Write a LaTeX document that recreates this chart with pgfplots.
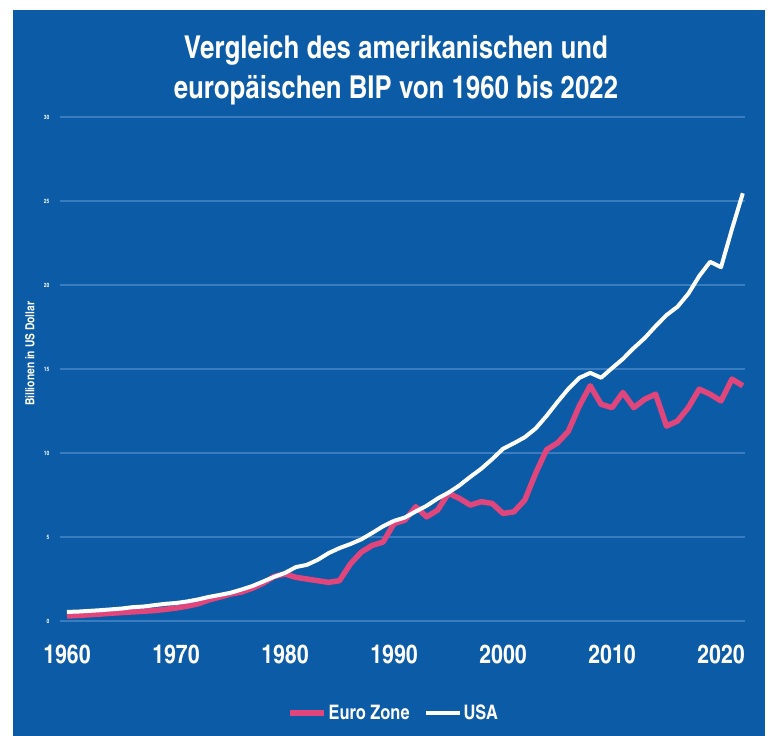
\documentclass[border=0pt]{standalone}
\usepackage{fontspec}
\setmainfont{texgyreheroscn-regular.otf}[BoldFont=texgyreheroscn-bold.otf]
\usepackage{pgfplots}
\pgfplotsset{compat=1.18}
\definecolor{bg}{HTML}{0B5BA6}
\definecolor{gridc}{HTML}{3A7CC0}
\definecolor{pinkc}{HTML}{E0467C}
\begin{document}
\begin{tikzpicture}
\fill[white] (0pt,0pt) rectangle (772pt,736pt);
\fill[bg] (13pt,0pt) rectangle (765pt,726pt);
\node[anchor=base,text=white,font=\bfseries\fontsize{31.5}{31.5}\selectfont] at (396pt,677pt) {Vergleich des amerikanischen und};
\node[anchor=base,text=white,font=\bfseries\fontsize{31.5}{31.5}\selectfont] at (396pt,637.5pt) {europäischen BIP von 1960 bis 2022};
\begin{axis}[
  at={(60pt,115pt)}, anchor=south west,
  scale only axis, width=685pt, height=504pt,
  xmin=1959.36, xmax=2022.2, ymin=0, ymax=30,
  axis line style={draw=none},
  major tick length=0pt,
  ymajorgrids, grid style={gridc, line width=1.5pt},
  xtick={1960,1970,...,2020},
  ytick={0,5,...,30},
  /pgf/number format/assume math mode=true,
  /pgf/number format/set thousands separator={},
  xticklabel style={text=white, font=\bfseries\fontsize{26}{26}\selectfont, yshift=-21pt},
  yticklabel style={text=white, font=\bfseries\fontsize{6}{6}\selectfont, xshift=-7pt},
  ylabel={Billionen in US Dollar},
  ylabel style={text=white, font=\bfseries\fontsize{12.5}{12.5}\selectfont, at={(axis description cs:-0.044,0.53)}, anchor=center, rotate=0},
  legend columns=2,
  legend style={draw=none, fill=none, text=white, font=\bfseries\fontsize{20}{20}\selectfont,
    at={(axis description cs:0.487,-0.1825)}, anchor=center,
    /tikz/every even column/.append style={column sep=12pt}},
  legend image code/.code={\draw[#1] (0pt,0pt) -- (34pt,0pt);},
]
\addplot[pinkc, line width=5.5pt, line join=round] coordinates {
(1960,0.30)(1961,0.33)(1962,0.37)(1963,0.41)(1964,0.46)(1965,0.50)(1966,0.54)(1967,0.58)(1968,0.62)(1969,0.69)
(1970,0.77)(1971,0.88)(1972,1.02)(1973,1.25)(1974,1.42)(1975,1.60)(1976,1.72)(1977,1.95)(1978,2.25)(1979,2.65)
(1980,2.80)(1981,2.60)(1982,2.50)(1983,2.40)(1984,2.30)(1985,2.40)(1986,3.40)(1987,4.10)(1988,4.50)(1989,4.70)
(1990,5.80)(1991,6.00)(1992,6.80)(1993,6.20)(1994,6.60)(1995,7.60)(1996,7.30)(1997,6.90)(1998,7.10)(1999,7.00)
(2000,6.40)(2001,6.50)(2002,7.20)(2003,8.80)(2004,10.20)(2005,10.60)(2006,11.30)(2007,12.80)(2008,14.00)(2009,12.90)
(2010,12.70)(2011,13.60)(2012,12.70)(2013,13.20)(2014,13.50)(2015,11.60)(2016,11.90)(2017,12.70)(2018,13.80)(2019,13.50)
(2020,13.10)(2021,14.40)(2022,14.00)
};
\addlegendentry{Euro Zone}
\addplot[white, line width=4pt, line join=round] coordinates {
(1960,0.54)(1961,0.56)(1962,0.60)(1963,0.64)(1964,0.69)(1965,0.74)(1966,0.82)(1967,0.86)(1968,0.94)(1969,1.02)
(1970,1.07)(1971,1.16)(1972,1.28)(1973,1.43)(1974,1.55)(1975,1.68)(1976,1.87)(1977,2.08)(1978,2.35)(1979,2.63)
(1980,2.86)(1981,3.21)(1982,3.34)(1983,3.64)(1984,4.04)(1985,4.34)(1986,4.58)(1987,4.86)(1988,5.24)(1989,5.64)
(1990,5.96)(1991,6.16)(1992,6.52)(1993,6.86)(1994,7.29)(1995,7.64)(1996,8.07)(1997,8.58)(1998,9.06)(1999,9.63)
(2000,10.25)(2001,10.58)(2002,10.94)(2003,11.46)(2004,12.21)(2005,13.04)(2006,13.82)(2007,14.47)(2008,14.77)(2009,14.48)
(2010,15.05)(2011,15.60)(2012,16.25)(2013,16.84)(2014,17.55)(2015,18.21)(2016,18.70)(2017,19.48)(2018,20.53)(2019,21.38)
(2020,21.06)(2021,23.32)(2022,25.46)
};
\addlegendentry{USA}
\end{axis}
\end{tikzpicture}
\end{document}
